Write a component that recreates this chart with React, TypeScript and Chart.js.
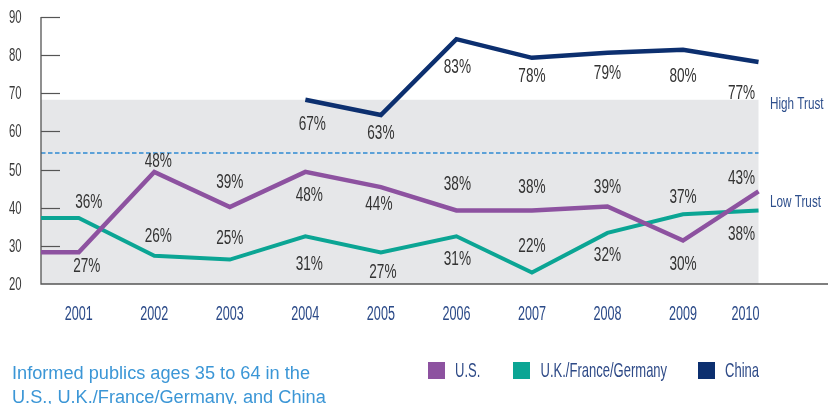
import React, { useEffect, useRef } from "react";
import { Chart, registerables } from "chart.js";

Chart.register(...registerables);

const years = [2001, 2002, 2003, 2004, 2005, 2006, 2007, 2008, 2009, 2010];
const yTicks = [20, 30, 40, 50, 60, 70, 80, 90];

const usValues = [28.3, 49.4, 40.2, 49.4, 45.4, 39.3, 39.3, 40.3, 31.4, 44.3];
const usLabels = ["27%", "48%", "39%", "48%", "44%", "38%", "38%", "39%", "30%", "43%"];

const eu3Values = [37.3, 27.4, 26.4, 32.5, 28.3, 32.5, 23.0, 33.4, 38.3, 39.3];
const eu3Labels = ["36%", "26%", "25%", "31%", "27%", "31%", "22%", "32%", "37%", "38%"];

const chinaYears = [2004, 2005, 2006, 2007, 2008, 2009, 2010];
const chinaValues = [68.3, 64.3, 84.2, 79.3, 80.6, 81.4, 78.2];
const chinaLabels = ["67%", "63%", "83%", "78%", "79%", "80%", "77%"];

const seriesNames = ["U.S.", "U.K./France/Germany", "China"];
const bandTop = 68.3;
const trustDivider = 54.4;
const footnote = ["Informed publics ages 35 to 64 in the", "U.S., U.K./France/Germany, and China"];

// label offsets (px) relative to points
const usDx = [8, 4, 0, 4, -2, 1, 0, 0, 0, -17];
const usDy = [14, -10, -24, 24, 17, -26, -23, -19, 24, -13];
const euDx = [10, 4, 0, 4, 2, 1, 0, 0, 0, -17];
const euDy = [-16, -19, -21, 28, 20, 23, -26, 23, -17, 24];
const cnDx = [7, 0, 1, 0, 0, 0, -17];
const cnDy = [25, 18, 28, 19, 21, 27, 31];

const X_MIN = 2000.5;
const SANS = "'Liberation Sans', Arial, sans-serif";
const PURPLE = "#8d52a0";
const TEAL = "#0ba594";
const NAVY = "#0c2f6f";

function txt(ctx: CanvasRenderingContext2D, s: string, x: number, y: number, align: CanvasTextAlign, sx: number) {
  ctx.save();
  ctx.translate(x, y);
  ctx.scale(sx, 1);
  ctx.textAlign = align;
  ctx.fillText(s, 0, 0);
  ctx.restore();
}

export default function App() {
  const ref = useRef<HTMLCanvasElement | null>(null);

  useEffect(() => {
    const canvas = ref.current;
    if (!canvas) return;

    const usData = [{ x: X_MIN, y: usValues[0] }, ...years.map((y, i) => ({ x: y, y: usValues[i] }))];
    const euData = [{ x: X_MIN, y: eu3Values[0] }, ...years.map((y, i) => ({ x: y, y: eu3Values[i] }))];
    const cnData = chinaYears.map((y, i) => ({ x: y, y: chinaValues[i] }));

    const decor = {
      id: "decor",
      beforeDatasetsDraw(chart: any) {
        const { ctx, chartArea } = chart;
        const xs = chart.scales.x;
        const ys = chart.scales.y;
        const left = chartArea.left;
        const bottom = chartArea.bottom;
        ctx.save();
        const bx2 = xs.getPixelForValue(2010);
        const by1 = ys.getPixelForValue(bandTop);
        ctx.fillStyle = "#e6e7e9";
        ctx.fillRect(left, by1, bx2 - left, bottom - by1);
        const dy = Math.round(ys.getPixelForValue(trustDivider));
        ctx.strokeStyle = "#2f8bd2";
        ctx.lineWidth = 1.6;
        ctx.setLineDash([4.5, 2.5]);
        ctx.beginPath();
        ctx.moveTo(left, dy);
        ctx.lineTo(bx2, dy);
        ctx.stroke();
        ctx.setLineDash([]);
        ctx.strokeStyle = "#555";
        ctx.lineWidth = 1.3;
        ctx.beginPath();
        ctx.moveTo(left, ys.getPixelForValue(90));
        ctx.lineTo(left, bottom);
        ctx.lineTo(chart.width, bottom);
        ctx.stroke();
        ctx.lineWidth = 1.2;
        for (const t of yTicks) {
          if (t === 20) continue;
          const py = Math.round(ys.getPixelForValue(t)) + 0.5;
          ctx.beginPath();
          ctx.moveTo(left, py);
          ctx.lineTo(left + 19, py);
          ctx.stroke();
        }
        ctx.restore();
      },
      afterDatasetsDraw(chart: any) {
        const { ctx } = chart;
        const xs = chart.scales.x;
        const ys = chart.scales.y;
        ctx.save();
        ctx.textBaseline = "middle";
        ctx.font = `18px ${SANS}`;
        ctx.fillStyle = "#3a3a3a";
        for (const t of yTicks) {
          txt(ctx, String(t), 9, ys.getPixelForValue(t) + 1, "left", 0.63);
        }
        ctx.font = `20px ${SANS}`;
        ctx.fillStyle = "#2b4a88";
        years.forEach((y, i) => {
          const dx = i === years.length - 1 ? -13 : 0;
          txt(ctx, String(y), xs.getPixelForValue(y) + dx, 314.5, "center", 0.63);
        });
        ctx.font = `20px ${SANS}`;
        ctx.fillStyle = "#333";
        const drawLabels = (xsVals: number[], vals: number[], labels: string[], dxs: number[], dys: number[]) => {
          xsVals.forEach((xv, i) => {
            txt(ctx, labels[i], xs.getPixelForValue(xv) + dxs[i], ys.getPixelForValue(vals[i]) + dys[i], "center", 0.68);
          });
        };
        drawLabels(years, usValues, usLabels, usDx, usDy);
        drawLabels(years, eu3Values, eu3Labels, euDx, euDy);
        drawLabels(chinaYears, chinaValues, chinaLabels, cnDx, cnDy);
        ctx.font = `16.5px ${SANS}`;
        ctx.fillStyle = "#2e4f8c";
        txt(ctx, "High Trust", 770, 104, "left", 0.71);
        txt(ctx, "Low Trust", 770, 202, "left", 0.71);
        const colors = [PURPLE, TEAL, NAVY];
        const lx = [428, 513, 698];
        const tx = [455, 540.5, 725];
        ctx.font = `21px ${SANS}`;
        seriesNames.forEach((n, i) => {
          ctx.fillStyle = colors[i];
          ctx.fillRect(lx[i], 362, 17, 17);
          ctx.fillStyle = "#2e4a87";
          txt(ctx, n, tx[i], 371, "left", 0.62);
        });
        ctx.font = `18px ${SANS}`;
        ctx.fillStyle = "#3b96d6";
        const w = ctx.measureText(footnote[0]).width;
        const fsx = 298 / w;
        txt(ctx, footnote[0], 12, 374, "left", fsx);
        txt(ctx, footnote[1], 12, 398, "left", fsx);
        ctx.restore();
      },
    };

    const chart = new Chart(canvas, {
      type: "line",
      data: {
        datasets: [
          { label: seriesNames[0], data: usData, borderColor: PURPLE, borderWidth: 4.5, pointRadius: 0, tension: 0, borderJoinStyle: "miter" },
          { label: seriesNames[1], data: euData, borderColor: TEAL, borderWidth: 4, pointRadius: 0, tension: 0, borderJoinStyle: "miter" },
          { label: seriesNames[2], data: cnData, borderColor: NAVY, borderWidth: 4.5, pointRadius: 0, tension: 0, borderJoinStyle: "miter" },
        ] as any,
      },
      options: {
        animation: false,
        responsive: false,
        maintainAspectRatio: false,
        layout: { padding: { top: 17, right: 0, left: 0, bottom: 0 } },
        plugins: { legend: { display: false }, tooltip: { enabled: false } },
        scales: {
          x: {
            type: "linear",
            min: X_MIN,
            max: 2010.92,
            ticks: { display: false },
            grid: { display: false },
            border: { display: false },
            afterFit: (s: any) => { s.height = 120; },
          },
          y: {
            min: 20,
            max: 90,
            ticks: { display: false },
            grid: { display: false },
            border: { display: false },
            afterFit: (s: any) => { s.width = 41; },
          },
        },
      } as any,
      plugins: [decor],
    });
    return () => chart.destroy();
  }, []);

  return (
    <div style={{ position: "absolute", left: 0, top: 0, width: 828, height: 404, background: "#fff" }}>
      <canvas ref={ref} width={828} height={404} style={{ width: 828, height: 404, display: "block" }} />
    </div>
  );
}
